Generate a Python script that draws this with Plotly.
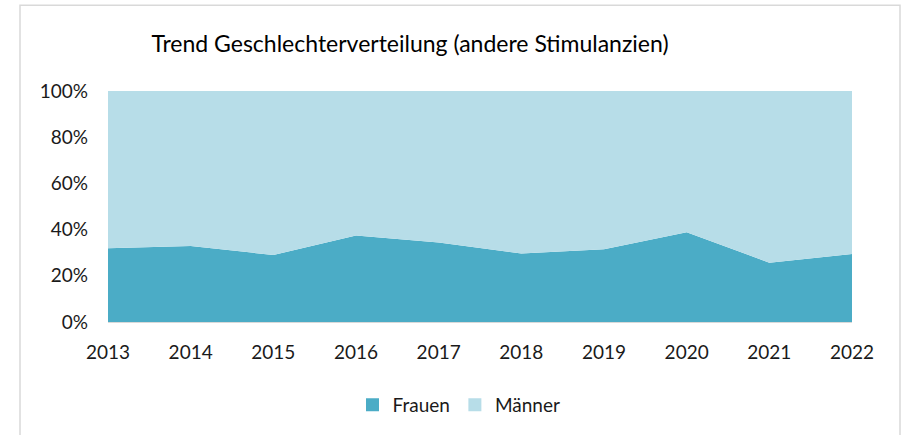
import plotly.graph_objects as go

years = ["2013", "2014", "2015", "2016", "2017", "2018", "2019", "2020", "2021", "2022"]
frauen = [31.9, 32.9, 29.0, 37.4, 34.4, 29.6, 31.5, 38.9, 25.7, 29.4]
maenner = [68.1, 67.1, 71.0, 62.6, 65.6, 70.4, 68.5, 61.1, 74.3, 70.6]
y_ticks = [0, 20, 40, 60, 80, 100]
y_tick_labels = ["0%", "20%", "40%", "60%", "80%", "100%"]

c_frauen = "#4BACC6"
c_maenner = "#B7DDE8"
FONT = "Lato"

fig = go.Figure()
fig.add_trace(go.Scatter(x=years, y=frauen, name="Frauen", stackgroup="one",
                         mode="none", fillcolor=c_frauen, showlegend=False))
fig.add_trace(go.Scatter(x=years, y=maenner, name="Männer", stackgroup="one",
                         mode="none", fillcolor=c_maenner, showlegend=False))
# legend entries (square swatches)
for nm, col in [("Frauen", c_frauen), ("Männer", c_maenner)]:
    fig.add_trace(go.Scatter(x=[None], y=[None], name=nm, mode="markers",
                             marker=dict(symbol="square", size=13, color=col)))

L, R, T, B = 108, 53, 91, 112
W, H = 905, 435
pw, ph = W - L - R, H - T - B

def px_x(x):
    return (x - L) / pw

def px_y(y):
    return (H - B - y) / ph

fig.update_layout(
    width=W, height=H,
    margin=dict(l=L, r=R, t=T, b=B),
    paper_bgcolor="white", plot_bgcolor="white",
    font=dict(family=FONT, size=19, color="#1a1a1a"),
    title=dict(text="Trend Geschlechterverteilung (andere Stimulanzien)",
               x=px_x(410), xref="paper", xanchor="center",
               y=1 - 44 / H, yref="container", yanchor="middle",
               font=dict(family=FONT, size=23, color="#000000")),
    xaxis=dict(type="category", range=[0, len(years) - 1], showgrid=False,
               showline=True, linecolor="#D9D9D9", linewidth=1, ticks="",
               ticklabelstandoff=13, zeroline=False),
    yaxis=dict(range=[0, 100], tickvals=y_ticks, ticktext=y_tick_labels,
               showgrid=False, zeroline=False, showline=False, ticks="",
               ticklabelstandoff=19),
    legend=dict(orientation="h", x=px_x(459), xanchor="center", xref="paper",
                y=px_y(405), yanchor="middle", font=dict(size=19),
                traceorder="normal",
                itemwidth=30, tracegroupgap=0, bgcolor="rgba(0,0,0,0)"),
    shapes=[dict(type="rect", xref="paper", yref="paper",
                 x0=px_x(20), x1=px_x(900), y0=px_y(445), y1=px_y(5),
                 line=dict(color="#D9D9D9", width=1.5), fillcolor="rgba(0,0,0,0)",
                 layer="below")],
)

fig.write_html("out.html",
               config={"displayModeBar": False},
               post_script="document.body.style.margin='0';document.body.style.overflow='hidden';")
